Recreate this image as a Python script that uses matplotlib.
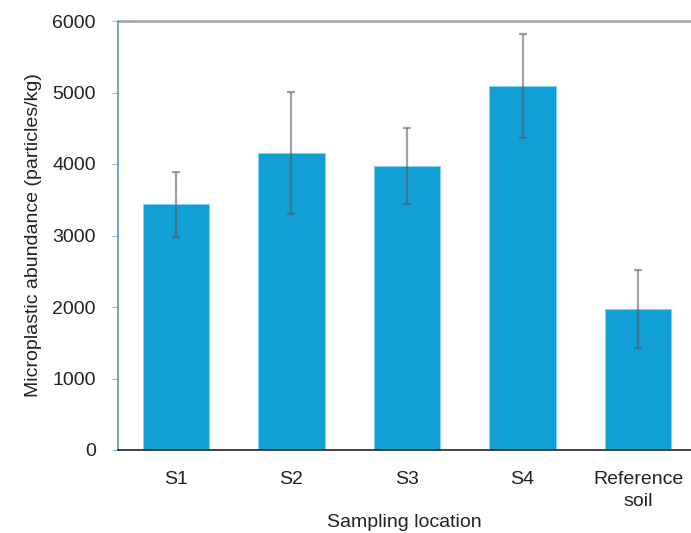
import matplotlib.pyplot as plt

plt.rcParams['font.family'] = ['Liberation Sans', 'DejaVu Sans']

# Data
locations = ["S1", "S2", "S3", "S4", "Reference\nsoil"]
abundance = [3440, 4155, 3970, 5095, 1970]
errors = [455, 850, 535, 730, 548]

fig = plt.figure(figsize=(6.91, 5.33), dpi=100)
ax = fig.add_axes([118 / 691, 1 - 450 / 533, 1 - 118 / 691, 429 / 533])

x = range(len(locations))
ax.bar(x, abundance, width=0.575, color="#119fd6", edgecolor="#7fd6f2",
       linewidth=0.6, zorder=2)
ax.errorbar(x, abundance, yerr=errors, fmt="none", ecolor="#555555",
            alpha=0.55, elinewidth=1.6, capsize=3, capthick=1.6, zorder=3)

ax.set_ylim(0, 6000)
ax.set_xlim(-0.5, 4.457)
ax.set_yticks(range(0, 6001, 1000))
ax.set_xticks(list(x))
ax.set_xticklabels(locations, linespacing=1.4)

# gridline at top only
ax.axhline(6000, color="#aaaaaa", linewidth=2, zorder=1, clip_on=False)

ax.spines["top"].set_visible(False)
ax.spines["right"].set_visible(False)
ax.spines["left"].set_color("#5f9ab8")
ax.spines["left"].set_linewidth(1.2)
ax.spines["bottom"].set_color("#222222")
ax.spines["bottom"].set_linewidth(1.2)

ax.tick_params(axis="y", length=4, color="#8cc4dc", labelsize=14, pad=12,
               labelcolor="#222222")
ax.tick_params(axis="x", length=0, labelsize=14, pad=15, labelcolor="#222222")

ax.set_ylabel("Microplastic abundance (particles/kg)", fontsize=14,
              color="#222222", labelpad=7)
ax.set_xlabel("Sampling location", fontsize=14, color="#222222", labelpad=3)

fig.savefig("out.png", dpi=100)
